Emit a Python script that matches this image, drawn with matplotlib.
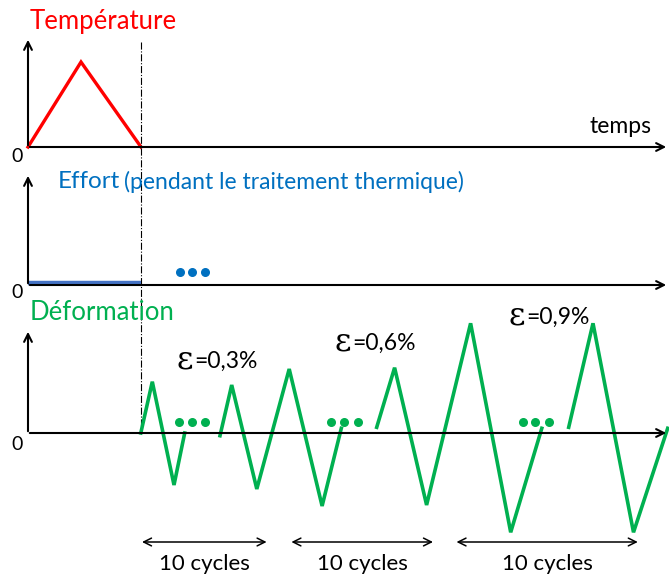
import matplotlib.pyplot as plt

plt.rcParams['font.family'] = ['Lato', 'DejaVu Sans']

# temperature cycle during heat treatment
temp_t = [0, 53, 113]
temp_v = [0, 85, 0]

# load during heat treatment
effort_t = [0, 113]
effort_v = [2, 2]
effort_dots_t = [152, 164, 177]

# strain blocks (one list per drawn stretch)
strain_t = [
    [112.8, 124.3, 146, 156.7],
    [192, 203.7, 228.8, 261.2, 294.1, 313.3],
    [348.7, 366.6, 398.6, 442.6, 482.7, 513.8],
    [540.7, 565, 605.5, 639.7],
]
strain_v = [
    [0, 51.3, -52, 0],
    [-2.7, 48, -56, 64, -73, 4.7],
    [5.7, 65.3, -72, 109.7, -99.3, 4.7],
    [5.7, 109.7, -99.3, 4.7],
]
strain_dots_t = [[151, 164, 177], [302.6, 315.9, 329.5], [494.6, 507.4, 521]]
strain_labels = ['=0,3%', '=0,6%', '=0,9%']
block_start = [114, 263.4, 428.5]
block_end = [238.6, 405, 609.8]
block_text = ['10 cycles', '10 cycles', '10 cycles']

W, H = 669, 574
fig = plt.figure(figsize=(W / 100, H / 100), dpi=100)

RED = '#FF0000'
BLUE = '#0070C0'
GREEN = '#00B050'


def make_panel(top, bottom, base):
    ax = fig.add_axes([0, 1 - bottom / H, 1, (bottom - top) / H])
    ax.set_xlim(-28, W - 28)
    ax.set_ylim(-(bottom - base), base - top)
    ax.axis('off')
    return ax


def draw_axes(ax, ytop):
    ap = dict(arrowstyle='->', color='black', lw=1.5, mutation_scale=14)
    ax.annotate('', xy=(W - 28, 0), xytext=(-1, 0), arrowprops=ap,
                annotation_clip=False)
    ax.annotate('', xy=(0, ytop), xytext=(0, -1), arrowprops=ap,
                annotation_clip=False)


# --- panel 1 : temperature
ax1 = make_panel(0, 160, 147)
draw_axes(ax1, 110)
ax1.plot(temp_t, temp_v, color=RED, lw=2.4, solid_joinstyle='miter', clip_on=False)
ax1.plot([113, 113], [105, -285], color='black', lw=0.8, ls='-.', clip_on=False)
ax1.text(2, 126, 'Température', color=RED, fontsize=18.5, va='center', ha='left')
ax1.text(562, 20, 'temps', color='black', fontsize=16.5, va='center', ha='left')
ax1.text(-11, -10, '0', color='black', fontsize=14, va='center', ha='center')

# --- panel 2 : effort
ax2 = make_panel(160, 298, 285)
draw_axes(ax2, 112)
ax2.plot(effort_t, effort_v, color='#4472C4', lw=3.2, solid_capstyle='butt')
ax2.scatter(effort_dots_t, [13] * 3, s=30, color=BLUE, zorder=3)
ax2.text(30, 103, 'Effort', color=BLUE, fontsize=17.5, va='center', ha='left')
ax2.text(96, 103, '(pendant le traitement thermique)', color=BLUE,
         fontsize=16.5, va='center', ha='left')
ax2.text(-11, -7, '0', color='black', fontsize=14, va='center', ha='center')

# --- panel 3 : deformation
ax3 = make_panel(298, 574, 433)
draw_axes(ax3, 104)
for t, v in zip(strain_t, strain_v):
    ax3.plot(t, v, color=GREEN, lw=2.6, solid_joinstyle='miter', clip_on=False)
for t in strain_dots_t:
    ax3.scatter(t, [11.3] * 3, s=30, color=GREEN, zorder=3, clip_on=False)
ax3.text(2, 121, 'Déformation', color=GREEN, fontsize=18.5, va='center', ha='left')
ax3.text(-11, -12, '0', color='black', fontsize=14, va='center', ha='center')

eps_pos = [(150, 72), (308, 90), (482, 116)]
for (x, y), lab in zip(eps_pos, strain_labels):
    ax3.text(x - 1, y + 1, 'ε', family='DejaVu Serif', fontsize=23, va='center', ha='left')
    ax3.text(x + 16, y, lab, fontsize=16.5, va='center', ha='left')

for x0, x1, lab in zip(block_start, block_end, block_text):
    ax3.annotate('', xy=(x1, -109), xytext=(x0, -109),
                 arrowprops=dict(arrowstyle='<->', color='black', lw=1.1,
                                 mutation_scale=14, shrinkA=0, shrinkB=0))
    ax3.text((x0 + x1) / 2, -131, lab, fontsize=16, va='center', ha='center')

fig.savefig('out.png', dpi=100)
